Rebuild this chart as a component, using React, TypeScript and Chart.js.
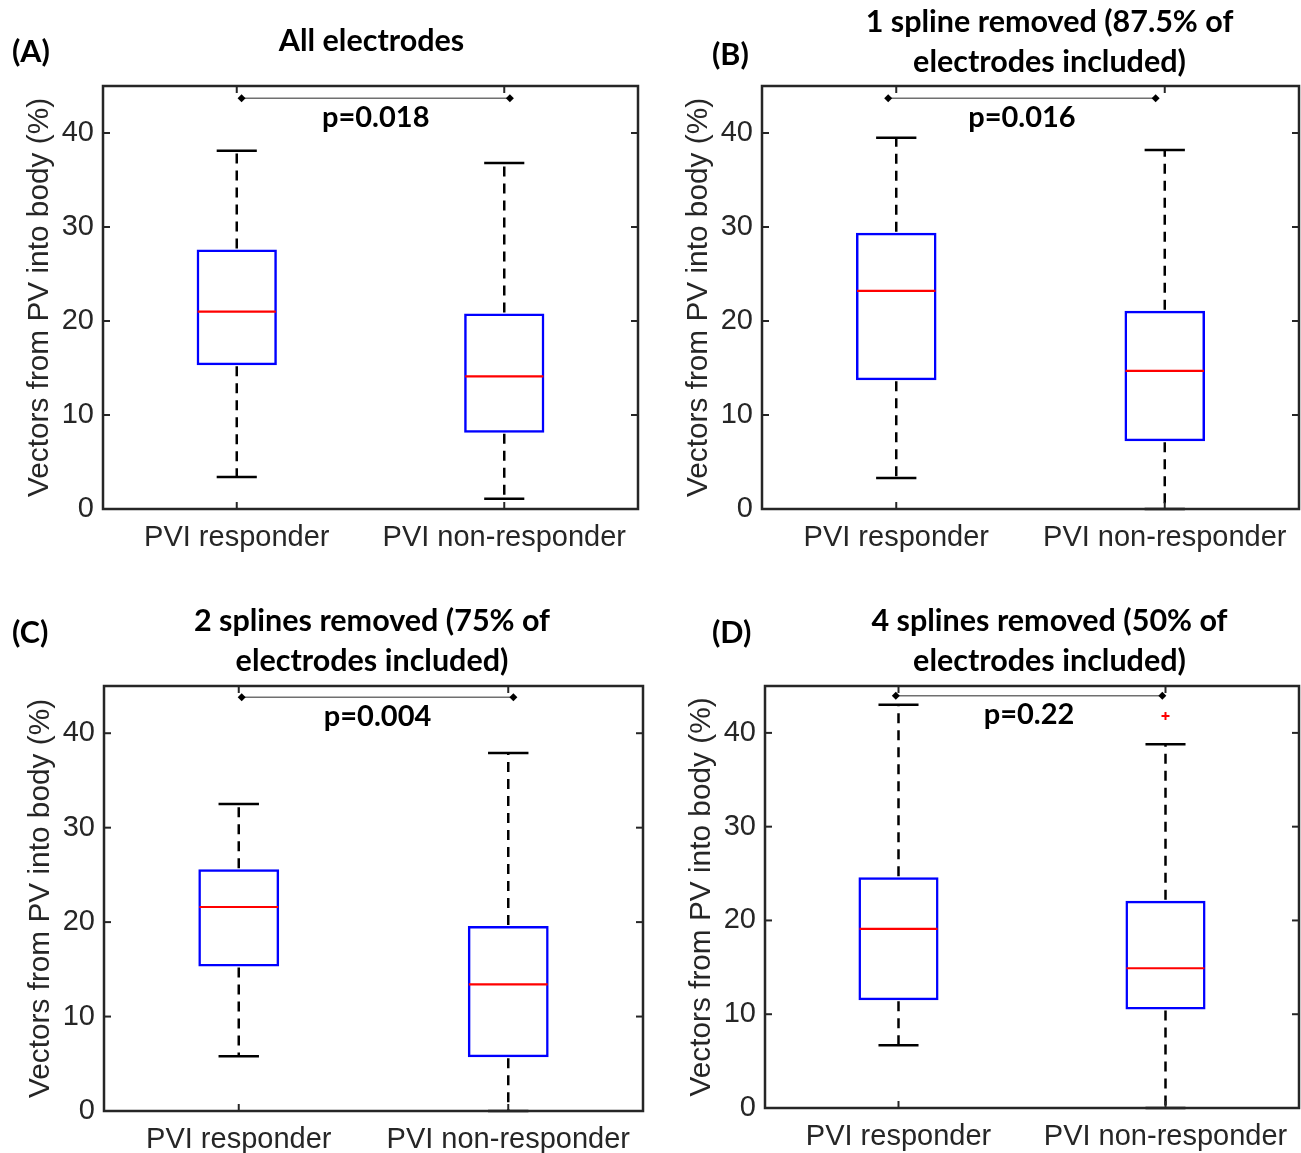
import React, { useEffect, useRef } from 'react';
import { Chart, registerables } from 'chart.js';

Chart.register(...registerables);

// ---------- data ----------
const categories = ['PVI responder', 'PVI non-responder'];
const yTicks = [0, 10, 20, 30, 40];
const yMin = 0;
const yMax = 45;
const yLabel = 'Vectors from PV into body (%)';

const panelLetters = ['(A)', '(B)', '(C)', '(D)'];
const panelTitles = [
  ['All electrodes'],
  ['1 spline removed (87.5% of', 'electrodes included)'],
  ['2 splines removed (75% of', 'electrodes included)'],
  ['4 splines removed (50% of', 'electrodes included)'],
];
const pValueLabels = ['p=0.018', 'p=0.016', 'p=0.004', 'p=0.22'];

// per panel: [responder, non-responder]
const whiskerLow = [[3.4, 1.1], [3.3, 0], [5.8, 0], [6.7, 0]];
const quartile1 = [[15.3, 8.1], [13.7, 7.2], [15.3, 5.7], [11.5, 10.5]];
const medians = [[21.0, 14.1], [23.2, 14.7], [21.6, 13.4], [19.1, 14.9]];
const quartile3 = [[27.6, 20.8], [29.4, 21.1], [25.6, 19.6], [24.6, 22.1]];
const whiskerHigh = [[38.1, 36.8], [39.5, 38.2], [32.5, 37.9], [43.0, 38.8]];
const outliers = [[[], []], [[], []], [[], []], [[], [41.8]]];

// significance brackets (category index units) and height
const bracketX = [[0.018, 1.021], [-0.03, 0.966], [0.011, 1.019], [-0.01, 0.988]];
const bracketY = [43.7, 43.7, 43.8, 43.95];

// ---------- layout (positions / styles) ----------
const panelLayout = [
  { left: 0, top: 0, width: 650, height: 576, area: { left: 103, right: 638, top: 86, bottom: 509 }, titleX: 371.5, titleY: [41], letter: [12, 52] },
  { left: 650, top: 0, width: 651, height: 576, area: { left: 112, right: 649, top: 86, bottom: 509 }, titleX: 399.5, titleY: [22, 62], letter: [62, 55] },
  { left: 0, top: 576, width: 650, height: 577, area: { left: 104, right: 643, top: 110, bottom: 535 }, titleX: 372, titleY: [45, 85], letter: [12, 57] },
  { left: 650, top: 576, width: 651, height: 577, area: { left: 115, right: 649, top: 110, bottom: 532 }, titleX: 399.5, titleY: [45, 85], letter: [62, 57] },
];

const AXIS_COLOR = '#262626';
const AXIS_FONT = 'Liberation Sans';
const BOLD_FONT = 'Lato';
const Y_AXIS_WIDTH = 103;

const matlabBoxPlugin = {
  id: 'matlabBox',
  afterDatasetsDraw(chart: any, _args: any, opts: any) {
    const { ctx, chartArea: a, scales } = chart;
    const x = scales.x;
    const y = scales.y;
    const meta = chart.getDatasetMeta(0);
    const line = (x1: number, y1: number, x2: number, y2: number) => {
      ctx.beginPath();
      ctx.moveTo(x1, y1);
      ctx.lineTo(x2, y2);
      ctx.stroke();
    };
    ctx.save();
    ctx.lineCap = 'butt';
    opts.low.forEach((lo: number, i: number) => {
      const bar = meta.data[i];
      const cx = x.getPixelForValue(i);
      const w = bar.width;
      const yHi = y.getPixelForValue(opts.high[i]);
      const yLo = y.getPixelForValue(lo);
      // whiskers
      ctx.strokeStyle = '#000';
      ctx.lineWidth = 2.5;
      ctx.setLineDash([10, 7]);
      line(cx, y.getPixelForValue(opts.q3[i]) - 1, cx, yHi);
      line(cx, y.getPixelForValue(opts.q1[i]) + 1, cx, yLo);
      ctx.setLineDash([]);
      // caps
      line(cx - w / 4, yHi, cx + w / 4, yHi);
      line(cx - w / 4, yLo, cx + w / 4, yLo);
      // median
      ctx.strokeStyle = '#ff0000';
      ctx.lineWidth = 2.2;
      const ym = y.getPixelForValue(opts.median[i]);
      line(bar.x - w / 2 + 1, ym, bar.x + w / 2 - 1, ym);
      // outliers
      ctx.lineWidth = 2;
      (opts.outliers[i] || []).forEach((v: number) => {
        const py = y.getPixelForValue(v);
        line(cx - 4, py, cx + 4, py);
        line(cx, py - 4, cx, py + 4);
      });
    });

    // frame + inward ticks
    ctx.strokeStyle = AXIS_COLOR;
    ctx.lineWidth = 2.5;
    ctx.strokeRect(a.left, a.top, a.right - a.left, a.bottom - a.top);
    ctx.lineWidth = 2;
    const tl = 7;
    yTicks.forEach((v) => {
      const py = y.getPixelForValue(v);
      line(a.left, py, a.left + tl, py);
      line(a.right, py, a.right - tl, py);
    });
    categories.forEach((_c, i) => {
      const px = x.getPixelForValue(i);
      line(px, a.bottom, px, a.bottom - tl);
      line(px, a.top, px, a.top + tl);
    });

    // significance bracket
    const bx1 = x.getPixelForValue(opts.bracketX[0]);
    const bx2 = x.getPixelForValue(opts.bracketX[1]);
    const by = y.getPixelForValue(opts.bracketY);
    ctx.strokeStyle = '#707070';
    ctx.lineWidth = 1.5;
    line(bx1, by, bx2, by);
    ctx.fillStyle = '#000';
    [bx1, bx2].forEach((bx) => {
      ctx.beginPath();
      ctx.moveTo(bx - 4, by);
      ctx.lineTo(bx, by - 4);
      ctx.lineTo(bx + 4, by);
      ctx.lineTo(bx, by + 4);
      ctx.closePath();
      ctx.fill();
    });
    ctx.textBaseline = 'middle';
    ctx.font = `bold 29px ${BOLD_FONT}`;
    ctx.textAlign = 'center';
    ctx.fillText(opts.pLabel, (bx1 + bx2) / 2, by + 19);

    // title
    ctx.font = `bold 30.5px ${BOLD_FONT}`;
    opts.title.forEach((t: string, k: number) => {
      ctx.fillText(t, opts.titleX, opts.titleY[k]);
    });

    // panel letter
    ctx.textAlign = 'left';
    ctx.fillText(opts.letter, opts.letterPos[0], opts.letterPos[1]);
    ctx.restore();
  },
};

function buildConfig(i: number): any {
  const L = panelLayout[i];
  return {
    type: 'bar',
    data: {
      labels: categories,
      datasets: [
        {
          data: categories.map((_c, k) => [quartile1[i][k], quartile3[i][k]]),
          backgroundColor: 'rgba(0,0,0,0)',
          borderColor: '#0000ff',
          borderWidth: 2.5,
          borderSkipped: false,
          barPercentage: 0.3,
          categoryPercentage: 1,
        },
      ],
    },
    plugins: [matlabBoxPlugin],
    options: {
      responsive: false,
      animation: false,
      devicePixelRatio: 1,
      events: [],
      layout: {
        padding: { left: L.area.left - Y_AXIS_WIDTH, right: L.width - L.area.right, top: L.area.top, bottom: 0 },
      },
      plugins: {
        legend: { display: false },
        tooltip: { enabled: false },
        title: { display: false },
        matlabBox: {
          low: whiskerLow[i],
          q1: quartile1[i],
          median: medians[i],
          q3: quartile3[i],
          high: whiskerHigh[i],
          outliers: outliers[i],
          bracketX: bracketX[i],
          bracketY: bracketY[i],
          pLabel: pValueLabels[i],
          title: panelTitles[i],
          titleX: L.titleX,
          titleY: L.titleY,
          letter: panelLetters[i],
          letterPos: L.letter,
        },
      },
      scales: {
        x: {
          type: 'category',
          offset: true,
          grid: { display: false, drawTicks: false },
          border: { display: false },
          ticks: {
            color: AXIS_COLOR,
            font: { family: AXIS_FONT, size: 29, lineHeight: 1.2 },
            padding: 12,
            maxRotation: 0,
            minRotation: 0,
            autoSkip: false,
          },
          afterFit: (s: any) => {
            s.height = L.height - L.area.bottom;
          },
        },
        y: {
          type: 'linear',
          min: yMin,
          max: yMax,
          grid: { display: false, drawTicks: false },
          border: { display: false },
          afterBuildTicks: (s: any) => {
            s.ticks = yTicks.map((v) => ({ value: v }));
          },
          ticks: {
            color: AXIS_COLOR,
            font: { family: AXIS_FONT, size: 29, lineHeight: 1.2 },
            padding: 9,
          },
          title: {
            display: true,
            text: yLabel,
            color: AXIS_COLOR,
            font: { family: AXIS_FONT, size: 29.8, lineHeight: 1.2 },
            padding: { top: 22, bottom: 0 },
          },
          afterFit: (s: any) => {
            s.width = Y_AXIS_WIDTH;
          },
        },
      },
    },
  };
}

function Panel({ index }: { index: number }) {
  const ref = useRef<HTMLCanvasElement | null>(null);
  useEffect(() => {
    if (!ref.current) return;
    const chart = new Chart(ref.current, buildConfig(index));
    return () => chart.destroy();
  }, [index]);
  const L = panelLayout[index];
  return (
    <canvas
      ref={ref}
      width={L.width}
      height={L.height}
      style={{ position: 'absolute', left: L.left, top: L.top, width: L.width, height: L.height }}
    />
  );
}

export default function App() {
  return (
    <div
      style={{
        position: 'absolute',
        left: 0,
        top: 0,
        width: 1301,
        height: 1153,
        background: '#ffffff',
        overflow: 'hidden',
      }}
    >
      {panelLayout.map((_p, i) => (
        <Panel key={i} index={i} />
      ))}
    </div>
  );
}
